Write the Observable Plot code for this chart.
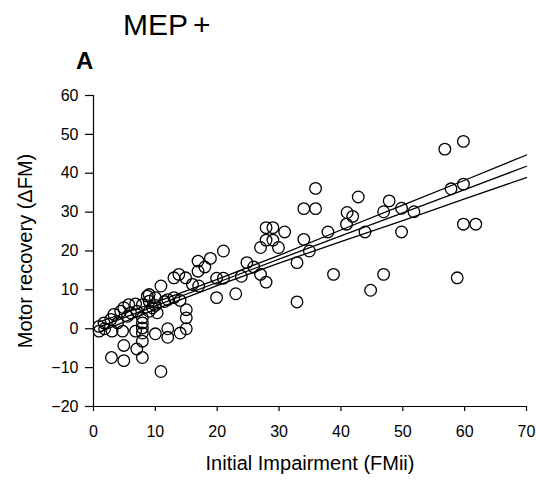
<!DOCTYPE html>
<html><head><meta charset="utf-8">
<script src="https://cdn.jsdelivr.net/npm/d3@7"></script>
<script src="https://cdn.jsdelivr.net/npm/@observablehq/plot@0.6"></script>
<style>
body{margin:0;background:#fff;font-family:"Liberation Sans",Arial,sans-serif;}
#wrap{position:relative;width:536px;height:483px;}
#title{position:absolute;left:123px;top:10px;font-size:30px;line-height:30px;color:#000;white-space:nowrap;}
#title span{margin-left:5px;}
#panel{position:absolute;left:76px;top:49px;font-size:24px;line-height:24px;font-weight:bold;color:#000;}
#chart{position:absolute;left:0;top:0;}
</style></head>
<body><div id="wrap"><div id="chart"></div><div id="title">MEP<span>+</span></div><div id="panel">A</div></div>
<script>
// Initial impairment (FMii) of each patient
const fmii = [
  0.9,0.9,1.7,1.8,2.8,3.0,3.3,3.9,4.4,4.7,4.9,5.5,5.7,6.0,6.8,7.0,6.8,7.9,7.9,7.9,7.9,7.9,8.7,9.0,9.5,10.3,
  2.9,4.9,4.9,7.0,7.9,7.9,10.0,12.0,14.0,15.0,15.0,15.0,12.0,10.9,
  10.9,13.0,13.8,14.9,16.0,13.0,14.0,9.0,9.0,10.0,10.0,11.5,12.0,
  16.9,18.0,18.9,16.9,17.0,19.9,19.9,21.0,21.0,23.0,23.9,24.8,25.9,27.0,27.9,27.0,29.9,27.9,29.0,27.9,29.0,30.9,32.9,32.9,
  34.0,34.0,35.9,35.9,34.9,37.9,38.8,41.0,41.9,40.9,42.8,43.9,44.8,46.9,46.9,47.8,49.8,49.8,51.8,
  56.8,59.8,57.8,59.8,58.8,59.8,61.8
];
// Motor recovery (ΔFM) of each patient
const dfm = [
  0.6,-0.6,1.5,0.0,2.4,-0.6,3.7,1.5,4.5,-0.6,5.4,3.2,6.2,4.1,6.4,4.5,-0.6,6.2,2.8,1.5,0.2,-1.1,8.4,4.5,5.4,4.1,
  -7.4,-8.2,-4.3,-5.2,-7.4,-3.2,-1.3,-2.2,-1.1,0.0,2.8,4.9,0.0,-11.0,
  11.0,13.1,14.0,13.1,11.4,8.0,7.3,8.8,7.1,8.0,6.0,7.0,7.5,
  17.4,15.9,18.1,14.8,11.0,8.0,13.0,13.0,20.0,9.0,13.5,17.0,15.9,14.0,12.0,20.9,20.9,26.0,26.0,22.8,22.8,24.9,17.0,6.9,
  23.0,30.9,30.9,36.1,20.0,24.9,14.0,29.9,28.9,26.9,33.9,24.9,9.9,30.1,14.0,32.9,31.0,24.9,30.1,
  46.2,48.2,36.0,37.2,13.1,26.9,26.9
];
const fitX = [1, 10, 20, 30, 40, 50, 60, 70];
const fitMid = [0.5, 5.9, 11.9, 17.9, 23.9, 29.8, 35.8, 41.8];
const fitUpper = [1.8, 6.8, 12.7, 18.9, 25.4, 31.8, 38.2, 44.7];
const fitLower = [-0.8, 5.0, 11.1, 16.9, 22.4, 27.8, 33.4, 38.9];
const xTicks = [0, 10, 20, 30, 40, 50, 60, 70];
const yTicks = [-20, -10, 0, 10, 20, 30, 40, 50, 60];
const xLabel = "Initial Impairment (FMii)";
const yLabel = "Motor recovery (\u0394FM)";

const points = fmii.map((x, i) => ({x, y: dfm[i]}));
const fit = fitX.map((x, i) => ({x, mid: fitMid[i], up: fitUpper[i], lo: fitLower[i]}));

const chart = Plot.plot({
  width: 536, height: 483,
  marginLeft: 93, marginRight: 10, marginTop: 95, marginBottom: 77,
  x: {domain: [0, 70]},
  y: {domain: [-20, 60]},
  style: {fontFamily: "Liberation Sans, Arial, sans-serif", fontSize: "16px", color: "#000", background: "transparent"},
  marks: [
    Plot.ruleX([0], {stroke: "#000", strokeWidth: 1.2}),
    Plot.ruleY([-20], {stroke: "#000", strokeWidth: 1.2}),
    Plot.axisX({ticks: xTicks, tickSize: 5, tickPadding: 14, label: null, fontSize: 16, strokeWidth: 1.2}),
    Plot.axisY({ticks: yTicks, tickSize: 8, tickPadding: 7, label: null, fontSize: 16, strokeWidth: 1.2}),
    Plot.line(fit, {x: "x", y: "up", stroke: "#000", strokeWidth: 1.3}),
    Plot.line(fit, {x: "x", y: "mid", stroke: "#000", strokeWidth: 1.3}),
    Plot.line(fit, {x: "x", y: "lo", stroke: "#000", strokeWidth: 1.3}),
    Plot.dot(points, {x: "x", y: "y", r: 5.8, stroke: "#000", strokeWidth: 1.3, fill: "none"}),
    Plot.text([xLabel], {frameAnchor: "bottom", textAnchor: "middle", dy: 63, fontSize: 20, fill: "#000"}),
    Plot.text([yLabel], {frameAnchor: "left", textAnchor: "middle", dx: -68, rotate: -90, fontSize: 20, fill: "#000"})
  ]
});
document.getElementById("chart").appendChild(chart);
</script>
</body></html>
